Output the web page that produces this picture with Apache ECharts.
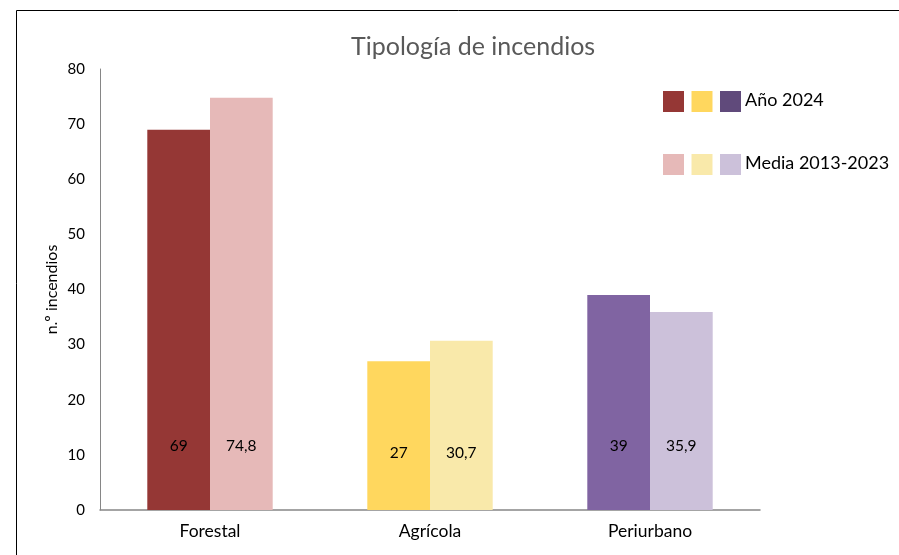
<!DOCTYPE html>
<html><head><meta charset="utf-8">
<script src="https://cdn.jsdelivr.net/npm/echarts@6/dist/echarts.min.js"></script>
<style>html,body{margin:0;padding:0;background:#fff}#c{width:899px;height:555px}</style>
</head><body><div id="c"></div>
<script>
const categories = ['Forestal', 'Agrícola', 'Periurbano'];
const year2024 = [69, 27, 39];
const media = [74.8, 30.7, 35.9];
const yTicks = [0, 10, 20, 30, 40, 50, 60, 70, 80];
const colors2024 = ['#953735', '#FFD75E', '#8064A2'];
const colorsMedia = ['#E6B9B8', '#F9E9AA', '#CCC1DA'];
const legendColors2024 = ['#953735', '#FFD75E', '#604A7B'];
const labelDist = [56, 49, 56];

const font = 'Lato, "Open Sans", sans-serif';
const chart = echarts.init(document.getElementById('c'), null, {renderer: 'canvas'});

function mk(vals, cols) {
  return vals.map((v, i) => ({
    value: v,
    itemStyle: {color: cols[i]},
    label: {distance: labelDist[i]}
  }));
}
const fmt = p => String(p.value).replace('.', ',');

const squares = [];
[[legendColors2024, 91], [colorsMedia, 154]].forEach(([cols, y]) => {
  cols.forEach((c, i) => {
    squares.push({type: 'rect', left: 663 + i * 28.5, top: y, shape: {width: 21, height: 21}, style: {fill: c}});
  });
});

chart.setOption({
  animation: false,
  title: {
    text: 'Tipología de incendios', left: 346, top: 29,
    textStyle: {fontFamily: font, fontSize: 25, fontWeight: 'normal', color: '#595959'}
  },
  grid: {left: 100, right: 139, top: 69, bottom: 45},
  xAxis: {
    type: 'category', data: categories,
    axisLine: {lineStyle: {color: '#868686', width: 1.5}},
    axisTick: {show: false},
    axisLabel: {fontFamily: font, fontSize: 17.5, color: '#000', margin: 12}
  },
  yAxis: {
    type: 'value', min: 0, max: 80, interval: 10,
    name: 'n.º incendios', nameLocation: 'middle', nameGap: 40, nameRotate: 90,
    nameMoveOverlap: false,
    nameTextStyle: {fontFamily: font, fontSize: 16, color: '#000'},
    axisLine: {show: true, lineStyle: {color: '#868686', width: 1}},
    axisTick: {show: false},
    splitLine: {show: false},
    axisLabel: {fontFamily: font, fontSize: 15, color: '#000', margin: 15,
      formatter: v => yTicks.includes(v) ? String(v) : ''}
  },
  series: [
    {name: 'Año 2024', type: 'bar', data: mk(year2024, colors2024), barGap: '0%', barCategoryGap: '43%',
     label: {show: true, position: 'insideBottom', fontFamily: font, fontSize: 15.5, color: '#000', formatter: fmt}},
    {name: 'Media 2013-2023', type: 'bar', data: mk(media, colorsMedia),
     label: {show: true, position: 'insideBottom', fontFamily: font, fontSize: 15.5, color: '#000', formatter: fmt}}
  ],
  graphic: [
    {type: 'rect', left: 14, top: 8, shape: {width: 900, height: 560}, style: {fill: 'none', stroke: '#000', lineWidth: 1}, silent: true},
    ...squares,
    {type: 'text', left: 745, top: 91, style: {text: 'Año 2024', font: '18px ' + font, fill: '#000'}},
    {type: 'text', left: 745, top: 154, style: {text: 'Media 2013-2023', font: '18px ' + font, fill: '#000'}}
  ]
});
</script></body></html>
